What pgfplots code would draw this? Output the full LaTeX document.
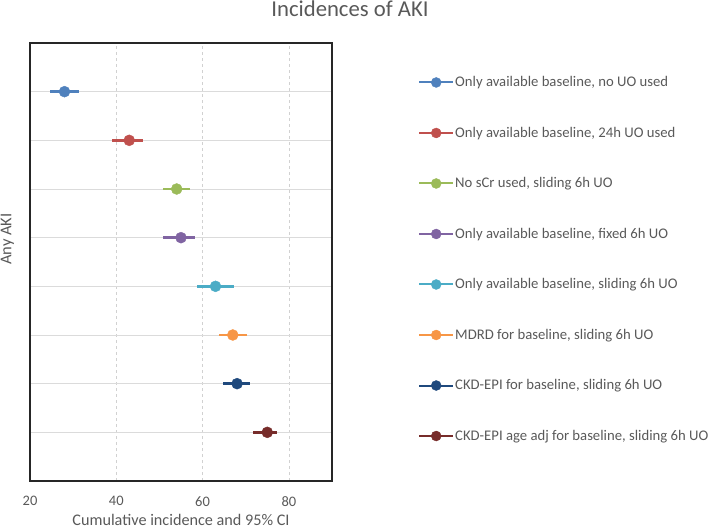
\documentclass[border=0pt]{standalone}
\usepackage{fontspec}
\setmainfont{Carlito}
\usepackage{pgfplots}
\pgfplotsset{compat=1.18}
\definecolor{txt}{HTML}{595959}
\definecolor{c1}{HTML}{4F81BD}
\definecolor{c2}{HTML}{C0504D}
\definecolor{c3}{HTML}{9BBB59}
\definecolor{c4}{HTML}{8064A2}
\definecolor{c5}{HTML}{4BACC6}
\definecolor{c6}{HTML}{F79646}
\definecolor{c7}{HTML}{1F497D}
\definecolor{c8}{HTML}{772C2A}
\begin{document}
\begin{tikzpicture}
\useasboundingbox (-30pt,-49pt) rectangle (679pt,481pt);
\begin{axis}[
  scale only axis,
  width=302pt, height=438pt,
  xmin=20, xmax=90, ymin=0, ymax=9,
  xtick={20,40,60,80},
  ytick={1,2,3,4,5,6,7,8},
  yticklabels={},
  major tick length=0pt,
  xmajorgrids, ymajorgrids,
  x grid style={dashed, color=black!18, line width=0.6pt},
  y grid style={color=black!14, line width=0.9pt},
  axis line style={color=black!85, line width=1.2pt},
  /pgf/number format/assume math mode=true,
  tick label style={font=\fontsize{14.5}{17}\selectfont, color=txt},
  xticklabel style={yshift=-12pt},
  xlabel={Cumulative incidence and 95\% CI},
  xlabel style={font=\fontsize{16.2}{19}\selectfont, color=txt, at={(axis description cs:0.5,-0.0755)}, anchor=north, inner sep=0pt},
  ylabel={Any AKI},
  ylabel style={font=\fontsize{16.5}{19}\selectfont, color=txt, at={(axis description cs:-0.0745,0.5525)}, anchor=center, inner sep=0pt},
  error bars/error mark=none,
  error bars/error bar style={line width=2.6pt},
  legend style={at={(1.2848,0.926)}, anchor=north west, draw=none, fill=none,
    font=\fontsize{14.7}{17}\selectfont, text=txt, row sep=36.8pt,
    inner sep=0pt, nodes={inner sep=1pt}},
  legend cell align=left,
  legend image code/.code={\draw[line width=2pt] (0pt,0pt) -- (34pt,0pt); \fill (17pt,0pt) circle (5pt);},
]
\addplot[color=c1, mark=*, mark size=5.5pt, only marks, error bars/.cd, x dir=both, x explicit] coordinates {(28,8) += (3.3,0) -= (3.4,0)};
\addlegendentry{Only available baseline, no UO used}
\addplot[color=c2, mark=*, mark size=5.5pt, only marks, error bars/.cd, x dir=both, x explicit] coordinates {(43,7) += (3.3,0) -= (4.1,0)};
\addlegendentry{Only available baseline, 24h UO used}
\addplot[color=c3, mark=*, mark size=5.5pt, only marks, error bars/.cd, x dir=both, x explicit] coordinates {(54,6) += (3.2,0) -= (3.2,0)};
\addlegendentry{No sCr used, sliding 6h UO}
\addplot[color=c4, mark=*, mark size=5.5pt, only marks, error bars/.cd, x dir=both, x explicit] coordinates {(55,5) += (3.2,0) -= (4.2,0)};
\addlegendentry{Only available baseline, fixed 6h UO}
\addplot[color=c5, mark=*, mark size=5.5pt, only marks, error bars/.cd, x dir=both, x explicit] coordinates {(63,4) += (4.3,0) -= (4.2,0)};
\addlegendentry{Only available baseline, sliding 6h UO}
\addplot[color=c6, mark=*, mark size=5.5pt, only marks, error bars/.cd, x dir=both, x explicit] coordinates {(67,3) += (3.2,0) -= (3.3,0)};
\addlegendentry{MDRD for baseline, sliding 6h UO}
\addplot[color=c7, mark=*, mark size=5.5pt, only marks, error bars/.cd, x dir=both, x explicit] coordinates {(68,2) += (3.1,0) -= (3.2,0)};
\addlegendentry{CKD-EPI for baseline, sliding 6h UO}
\addplot[color=c8, mark=*, mark size=5.5pt, only marks, error bars/.cd, x dir=both, x explicit] coordinates {(75,1) += (2.2,0) -= (3.3,0)};
\addlegendentry{CKD-EPI age adj for baseline, sliding 6h UO}
\end{axis}
\node[font=\fontsize{22.7}{26}\selectfont, color=txt, anchor=base] at (320pt,464pt) {Incidences of AKI};
\end{tikzpicture}
\end{document}
